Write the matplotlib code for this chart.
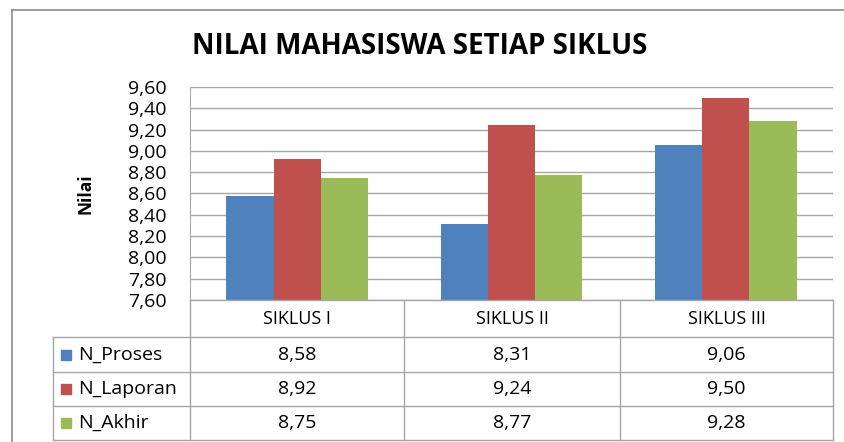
import numpy as np
import matplotlib.pyplot as plt
from matplotlib.lines import Line2D
from matplotlib.patches import Rectangle

plt.rcParams['font.family'] = ['Open Sans', 'DejaVu Sans']

categories = ['SIKLUS I', 'SIKLUS II', 'SIKLUS III']
series_names = ['N_Proses', 'N_Laporan', 'N_Akhir']
n_proses = [8.58, 8.31, 9.06]
n_laporan = [8.92, 9.24, 9.50]
n_akhir = [8.75, 8.77, 9.28]
colors = ['#4F81BD', '#C0504D', '#9BBB59']
yticks = np.arange(7.6, 9.61, 0.2)

W, H = 845, 442
fig = plt.figure(figsize=(W / 100, H / 100), dpi=100)

def fx(px):
    return px / W

def fy(py):
    return 1 - py / H

grid_c = '#a6a6a6'

# chart area border (left/top visible in the picture)
fig.add_artist(Line2D([fx(12), fx(12)], [fy(10), fy(445)], color='#8c8c8c', lw=1.2))
fig.add_artist(Line2D([fx(12), fx(850)], [fy(10), fy(10)], color='#8c8c8c', lw=1.2))

x0, x1, yt, yb = 190, 833, 87, 300
ax = fig.add_axes([fx(x0), fy(yb), fx(x1) - fx(x0), fy(yt) - fy(yb)])

x = np.arange(len(categories))
bw = 0.22
for i, (vals, c) in enumerate(zip([n_proses, n_laporan, n_akhir], colors)):
    ax.bar(x + (i - 1) * bw, np.array(vals) - 7.6, bw, bottom=7.6, color=c, zorder=3)

ax.set_xlim(-0.5, len(categories) - 0.5)
ax.set_ylim(7.6, 9.6)
ax.set_yticks(yticks)
ax.set_yticklabels([f'{v:.2f}'.replace('.', ',') for v in yticks], fontsize=14)
ax.set_xticks([])
ax.grid(axis='y', color=grid_c, lw=1, zorder=0)
for s in ['top', 'right', 'bottom']:
    ax.spines[s].set_visible(False)
ax.spines['left'].set_color(grid_c)
ax.tick_params(axis='y', length=0, pad=17)
ax.set_ylabel('Nilai', fontsize=12.5, fontweight='bold', labelpad=24)

fig.text(fx(420), fy(46), 'NILAI MAHASISWA SETIAP SIKLUS', fontsize=20,
         fontweight='bold', ha='center', va='center')

# data table
cols = [190, 404, 620, 833]
rows = [300, 337, 372, 406, 440]
lw = 1
fig.add_artist(Line2D([fx(190), fx(833)], [fy(300), fy(300)], color=grid_c, lw=lw))
for r in rows[1:]:
    fig.add_artist(Line2D([fx(53), fx(833)], [fy(r), fy(r)], color=grid_c, lw=lw))
for c in cols:
    fig.add_artist(Line2D([fx(c), fx(c)], [fy(300), fy(440)], color=grid_c, lw=lw))
fig.add_artist(Line2D([fx(53), fx(53)], [fy(337), fy(440)], color=grid_c, lw=lw))

for j, cat in enumerate(categories):
    fig.text(fx((cols[j] + cols[j + 1]) / 2), fy((rows[0] + rows[1]) / 2), cat,
             fontsize=13, ha='center', va='center')

for i, (name, vals, c) in enumerate(zip(series_names, [n_proses, n_laporan, n_akhir], colors)):
    yc = (rows[i + 1] + rows[i + 2]) / 2
    fig.add_artist(Rectangle((fx(61), fy(yc + 5)), fx(10), 10 / H, color=c))
    fig.text(fx(78), fy(yc), name, fontsize=14, ha='left', va='center')
    for j, v in enumerate(vals):
        fig.text(fx((cols[j] + cols[j + 1]) / 2), fy(yc), f'{v:.2f}'.replace('.', ','),
                 fontsize=14, ha='center', va='center')

fig.savefig('out.png', dpi=100)
